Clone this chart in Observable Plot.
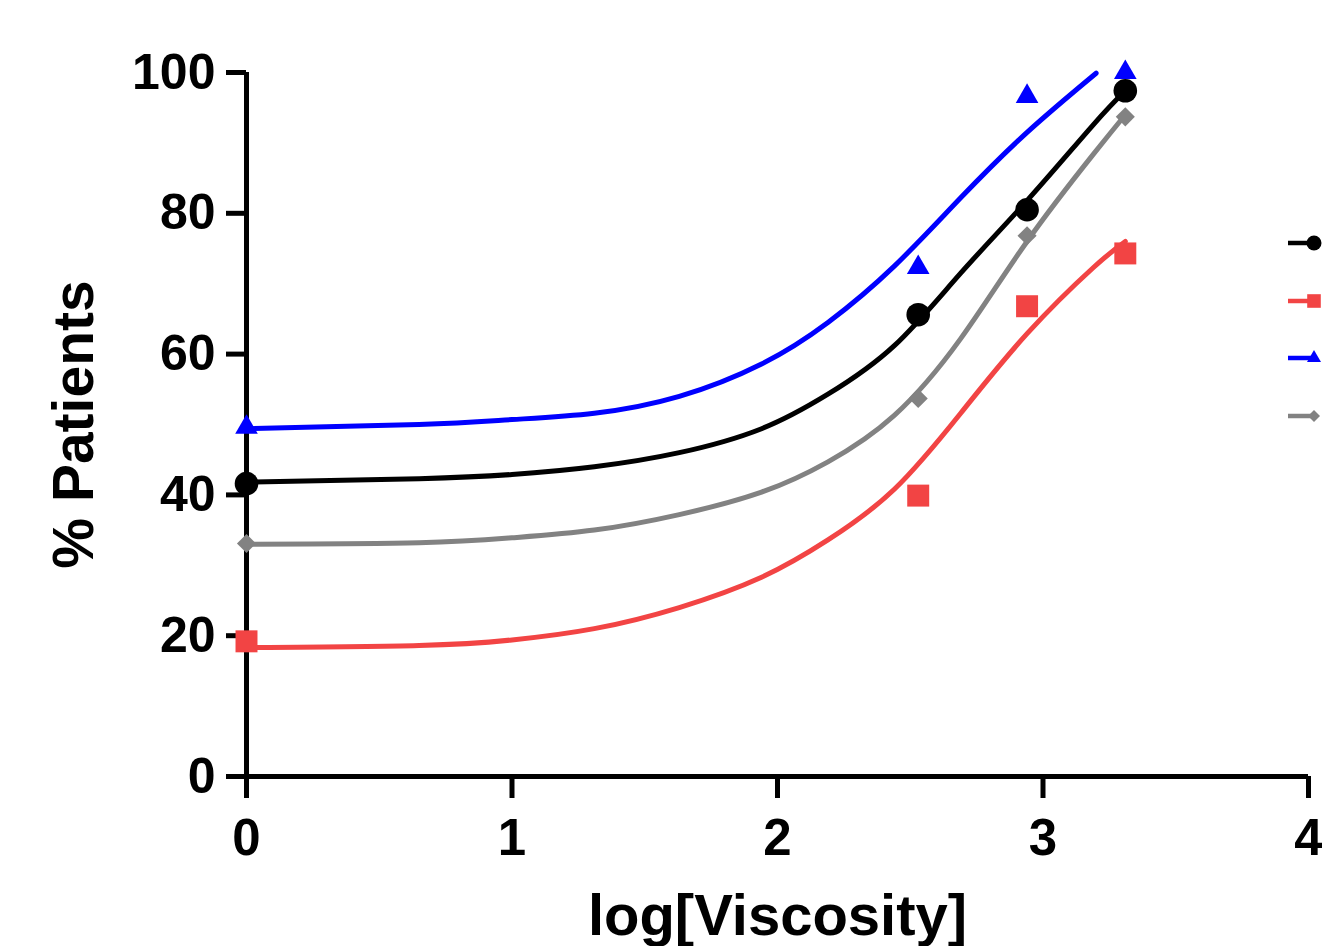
<!DOCTYPE html>
<html><head><meta charset="utf-8">
<script src="https://cdn.jsdelivr.net/npm/d3@7"></script>
<script src="https://cdn.jsdelivr.net/npm/@observablehq/plot@0.6"></script>
<style>
html,body{margin:0;padding:0;background:#fff;}
#wrap{position:relative;width:1322px;height:946px;overflow:hidden;background:#fff;}
#legend{position:absolute;left:0;top:0;}
</style></head><body><div id="wrap"></div>
<script>
// ---- data ----
const seriesNames = ["Series 1", "Series 2", "Series 3", "Series 4"];
const seriesColors = ["#000000", "#f24444", "#0000ff", "#828282"];
const seriesSymbols = ["circle", "square", "triangle", "diamond2"];
const seriesDotR = [11.8, 12.4, 8.4, 8.6];

const pointX = [0, 2.53, 2.94, 3.31];
const blackPts = [41.6, 65.6, 80.5, 97.4];
const redPts = [19.2, 39.9, 66.8, 74.3];
const bluePts = [49.6, 72.3, 96.6, 100];
const grayPts = [33.1, 53.7, 76.8, 93.7];

const curveX = [0, 0.65, 1.0, 1.31, 1.63, 1.94, 2.19, 2.44, 2.69, 2.94, 3.19, 3.31];
const blackCurve = [41.8, 42.3, 42.9, 44.0, 46.0, 49.4, 54.3, 61.2, 71.5, 81.8, 92.6, 97.4];
const redCurve = [18.3, 18.6, 19.4, 21.0, 24.0, 28.3, 33.6, 40.8, 51.6, 62.9, 72.3, 76.0];
const grayCurve = [33.0, 33.2, 33.9, 35.0, 37.2, 40.4, 44.7, 51.3, 62.2, 76.0, 88.4, 94.0];
const blueCurveX = [0, 0.65, 1.0, 1.31, 1.63, 1.94, 2.19, 2.44, 2.69, 2.94, 3.2];
const blueCurve = [49.4, 50.0, 50.7, 51.6, 54.0, 58.6, 64.5, 72.5, 82.2, 91.5, 99.9];

const xTicks = [0, 1, 2, 3, 4];
const yTicks = [0, 20, 40, 60, 80, 100];
const xTitle = "log[Viscosity]";
const yTitle = "% Patients";

// ---- build tables ----
const ptsBySeries = [blackPts, redPts, bluePts, grayPts];
const curveBySeries = [
  [curveX, blackCurve], [curveX, redCurve], [blueCurveX, blueCurve], [curveX, grayCurve]
];
const curveRows = [];
curveBySeries.forEach(([xs, ys], i) => xs.forEach((x, j) => curveRows.push({series: seriesNames[i], x, y: ys[j]})));

const font = "'Liberation Sans', Arial, Helvetica, sans-serif";

const marks = [
  Plot.axisY({ticks: yTicks, tickSize: 20, tickPadding: 11, strokeWidth: 5, fontSize: 50, fontWeight: "bold", fill: "#000", label: null, tickFormat: d => String(d)}),
  Plot.axisX({ticks: xTicks, tickSize: 22, tickPadding: 20, strokeWidth: 5, fontSize: 51, fontWeight: "bold", fill: "#000", label: null, tickFormat: d => String(d)}),
  Plot.ruleX([0], {y1: 0, y2: 100, strokeWidth: 5, stroke: "#000"}),
  Plot.ruleY([0], {x1: 0, x2: 4, strokeWidth: 5, stroke: "#000"}),
  Plot.line(curveRows, {x: "x", y: "y", z: "series", stroke: "series", strokeWidth: 5, curve: "natural"})
];
ptsBySeries.forEach((arr, i) => {
  const rows = arr.map((v, j) => ({series: seriesNames[i], x: pointX[j], y: v}));
  marks.push(Plot.dot(rows, {x: "x", y: "y", fill: seriesColors[i], stroke: "none", symbol: seriesSymbols[i], r: seriesDotR[i]}));
});
marks.push(Plot.text([xTitle], {frameAnchor: "bottom", textAnchor: "middle", lineAnchor: "middle", dy: 140, fontSize: 58, fontWeight: "bold", fill: "#000"}));
marks.push(Plot.text([yTitle], {frameAnchor: "left", textAnchor: "middle", lineAnchor: "middle", rotate: -90, dx: -172, fontSize: 57, fontWeight: "bold", fill: "#000"}));

const chart = Plot.plot({
  width: 1322, height: 946,
  marginLeft: 246, marginRight: 14, marginTop: 72, marginBottom: 170,
  x: {domain: [0, 4]},
  y: {domain: [0, 100]},
  color: {domain: seriesNames, range: seriesColors},
  style: {fontFamily: font, background: "transparent", overflow: "visible"},
  marks
});
const wrap = document.getElementById("wrap");
wrap.appendChild(chart);

// ---- legend (right side; its labels fall outside the picture, as in the reference) ----
const legendY = [243, 301, 358, 416];
const legendSymbolSize = [177, 185, 85, 92];
const d3Symbols = {circle: d3.symbolCircle, square: d3.symbolSquare, triangle: d3.symbolTriangle, diamond2: d3.symbolDiamond2};
const lg = d3.select(wrap).append("svg").attr("id", "legend").attr("width", 1322).attr("height", 946)
  .style("pointer-events", "none");
seriesNames.forEach((name, i) => {
  const g = lg.append("g").attr("transform", `translate(1314,${legendY[i]})`);
  g.append("title").text(name);
  g.append("line").attr("x1", -26).attr("x2", 0).attr("stroke", seriesColors[i]).attr("stroke-width", 4.5);
  g.append("path").attr("d", d3.symbol(d3Symbols[seriesSymbols[i]], legendSymbolSize[i])()).attr("fill", seriesColors[i]);
});
</script></body></html>
